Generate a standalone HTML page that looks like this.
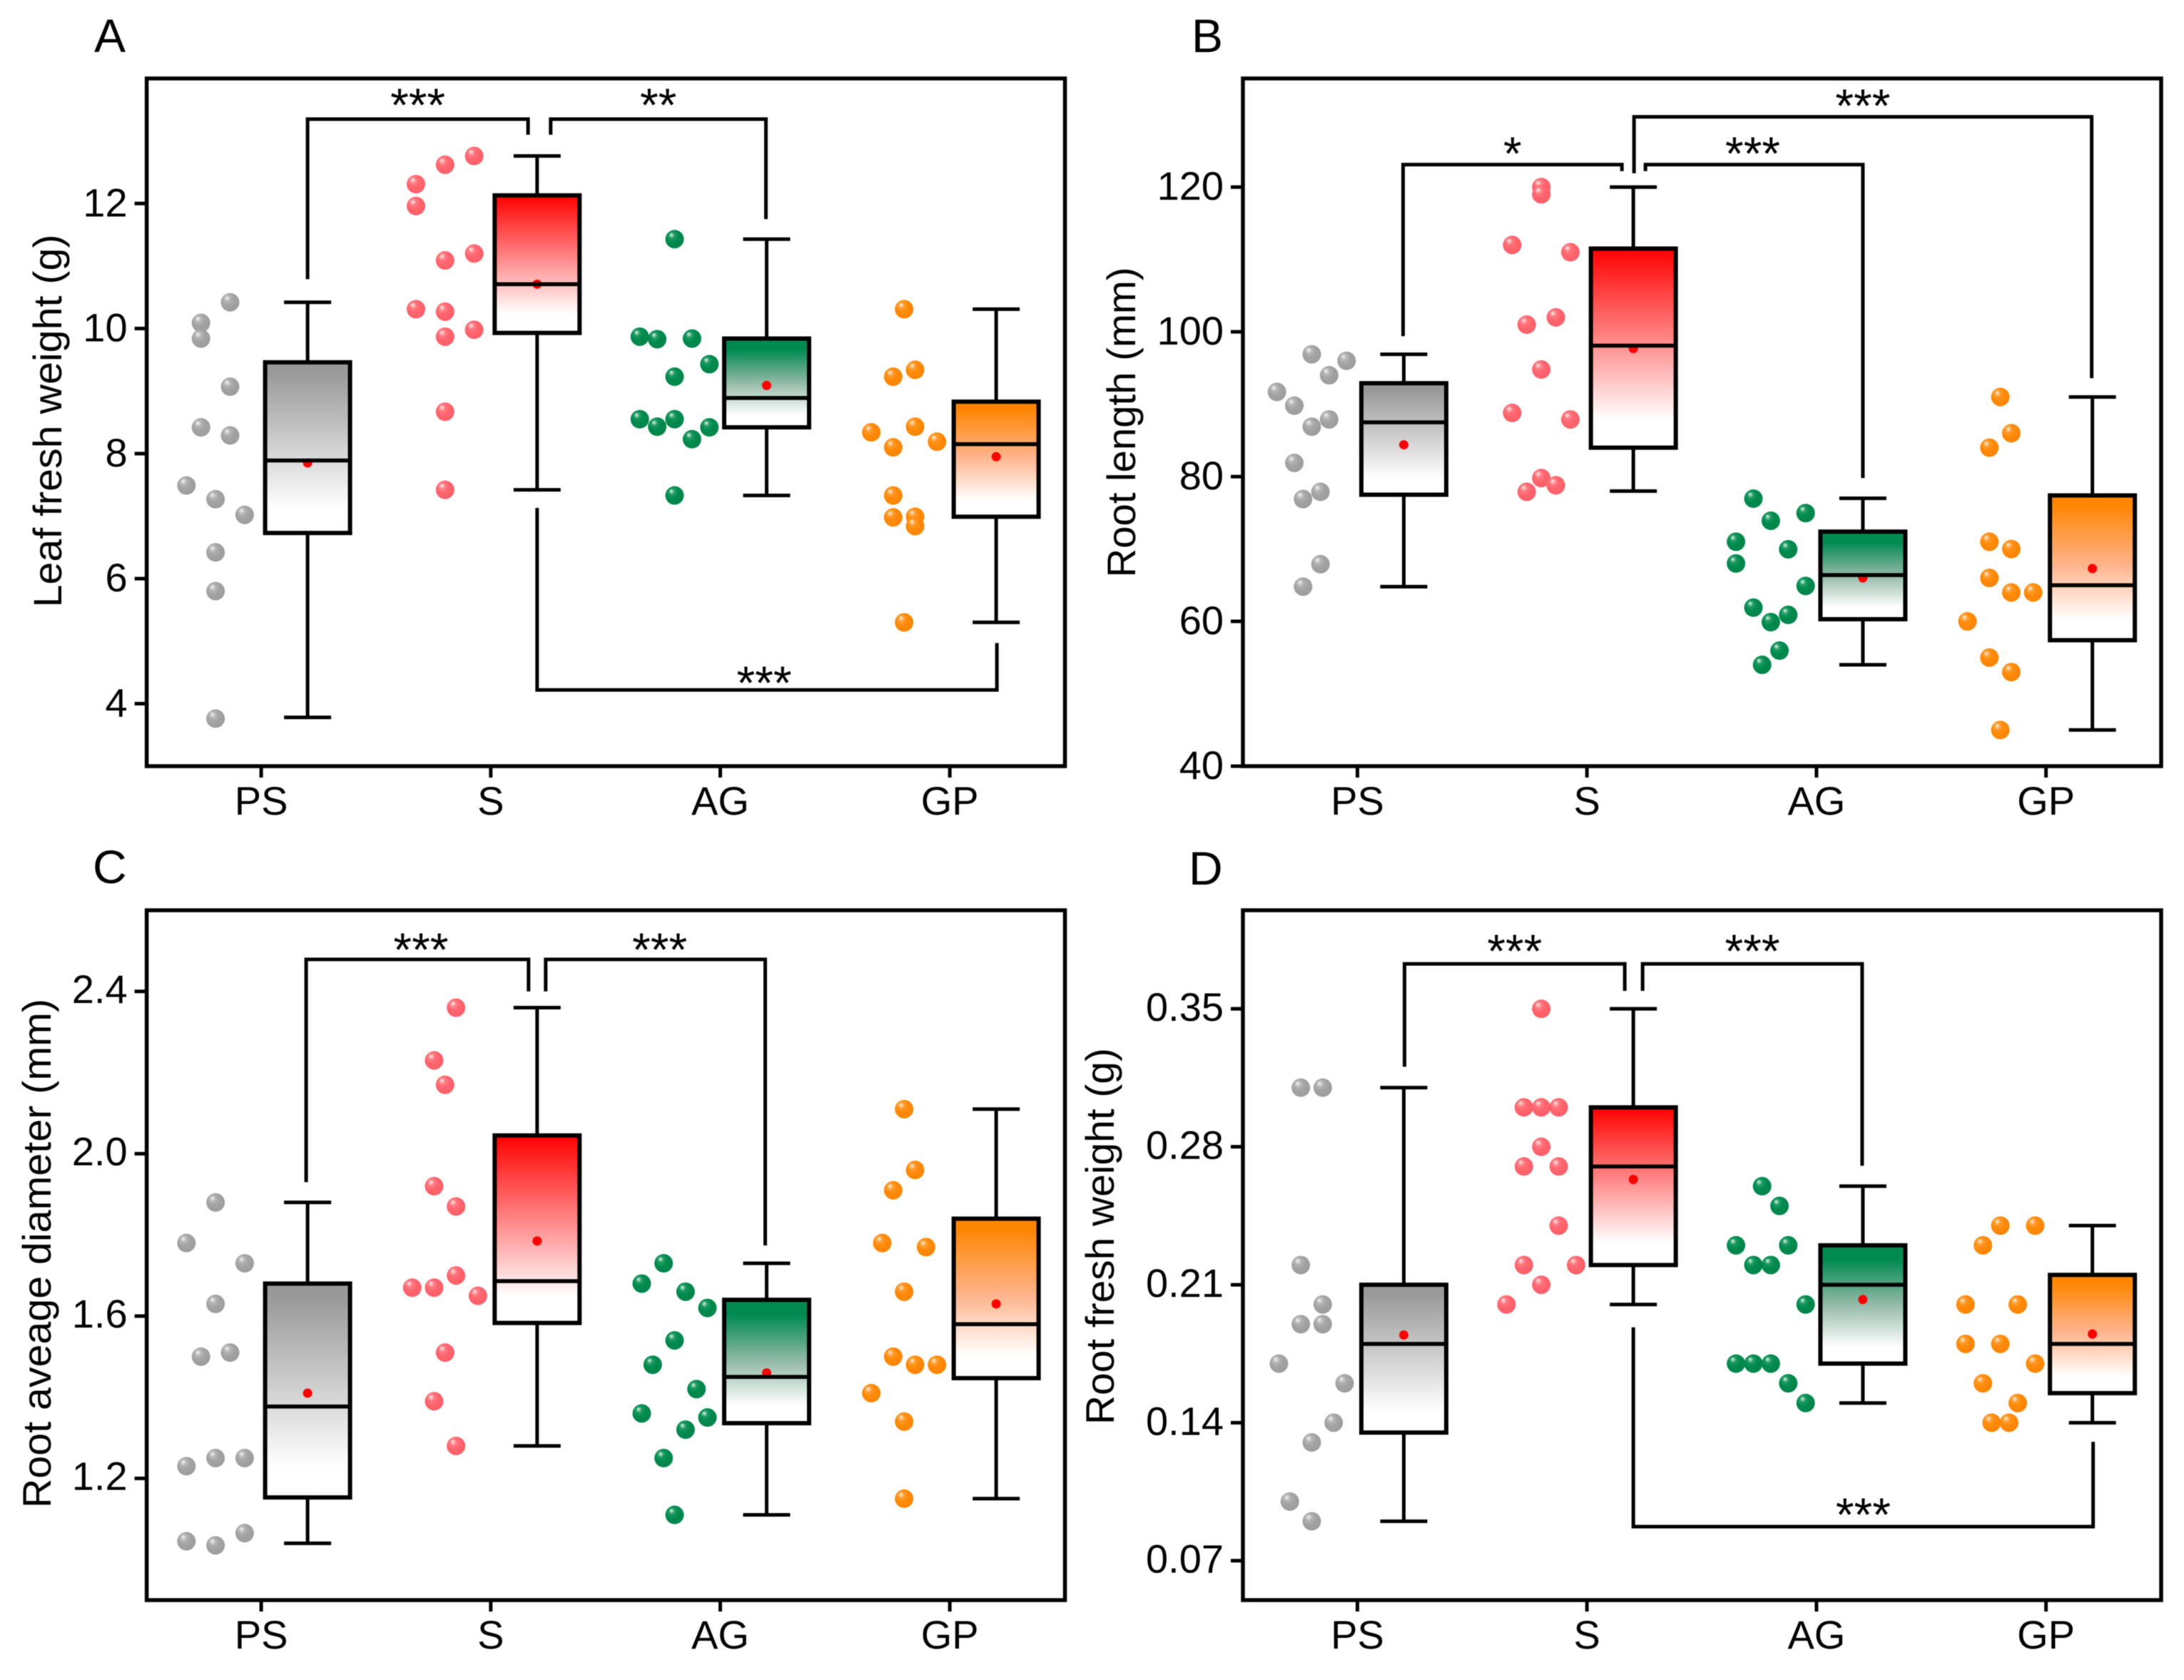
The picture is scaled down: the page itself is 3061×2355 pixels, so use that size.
<!DOCTYPE html>
<html lang="en">
<head>
<meta charset="utf-8">
<title>Four-panel box and swarm plots</title>
<style>
html,body{margin:0;padding:0;background:#fff}
svg{display:block;filter:blur(0.6px)}
text{font-family:"Liberation Sans",Arial,sans-serif;fill:#000}
</style>
</head>
<body>
<svg id="chart" xmlns="http://www.w3.org/2000/svg" width="3061" height="2355" viewBox="0 0 3061 2355">
<defs>
<linearGradient id="box-gray" x1="0" y1="0" x2="0" y2="1"><stop offset="0" stop-color="#999"/><stop offset=".06" stop-color="#999"/><stop offset=".86" stop-color="#fff"/></linearGradient>
<linearGradient id="box-red" x1="0" y1="0" x2="0" y2="1"><stop offset="0" stop-color="#ff0000"/><stop offset=".04" stop-color="#ff0c0c"/><stop offset=".86" stop-color="#fff"/></linearGradient>
<linearGradient id="box-green" x1="0" y1="0" x2="0" y2="1"><stop offset="0" stop-color="#008a50"/><stop offset=".12" stop-color="#008a50"/><stop offset=".5" stop-color="#94baa8"/><stop offset=".86" stop-color="#fff"/></linearGradient>
<linearGradient id="box-orange" x1="0" y1="0" x2="0" y2="1"><stop offset="0" stop-color="#ff8500"/><stop offset=".06" stop-color="#ff8500"/><stop offset=".48" stop-color="#ffb48c"/><stop offset=".86" stop-color="#fff"/></linearGradient>
<radialGradient id="dot-gray" cx=".42" cy=".4" r=".62" fx=".32" fy=".26"><stop offset="0" stop-color="#f2f2f2"/><stop offset=".28" stop-color="#b4b4b4"/><stop offset=".55" stop-color="#a3a3a3"/><stop offset="1" stop-color="#9c9c9c"/></radialGradient>
<radialGradient id="dot-red" cx=".42" cy=".4" r=".62" fx=".32" fy=".26"><stop offset="0" stop-color="#ffecec"/><stop offset=".28" stop-color="#ff7a82"/><stop offset=".55" stop-color="#ff656e"/><stop offset="1" stop-color="#fb5f68"/></radialGradient>
<radialGradient id="dot-green" cx=".42" cy=".4" r=".62" fx=".32" fy=".26"><stop offset="0" stop-color="#e2f5ea"/><stop offset=".26" stop-color="#1d9a62"/><stop offset=".55" stop-color="#008a4e"/><stop offset="1" stop-color="#008449"/></radialGradient>
<radialGradient id="dot-orange" cx=".42" cy=".4" r=".62" fx=".32" fy=".26"><stop offset="0" stop-color="#fff0dc"/><stop offset=".28" stop-color="#ff9a2a"/><stop offset=".55" stop-color="#ff8a0a"/><stop offset="1" stop-color="#fb8400"/></radialGradient>
</defs>
</svg>
<script>
const categories = ['PS', 'S', 'AG', 'GP'];

/* Panel A: leaf fresh weight */
const aTicks = [4, 6, 8, 10, 12];
const aTickLabels = ['4', '6', '8', '10', '12'];
const aPointsPS = [10.42, 10.09, 9.84, 9.07, 8.42, 8.29, 7.49, 7.27, 7.02, 6.42, 5.8, 3.76];
const aPointsS = [12.76, 12.62, 12.31, 11.96, 11.2, 11.09, 10.31, 10.27, 9.98, 9.87, 8.67, 7.42];
const aPointsAG = [11.43, 9.87, 9.83, 9.84, 9.43, 9.23, 8.55, 8.43, 8.55, 8.23, 8.42, 7.33];
const aPointsGP = [10.31, 9.23, 9.34, 8.34, 8.43, 8.1, 8.19, 7.33, 6.98, 6.99, 6.84, 5.3];
const aSlotsPS = [1, -1, -1, 1, -1, 1, -2, 0, 2, 0, 0, 0];
const aSlotsS = [2, 0, -2, -2, 2, 0, -2, 0, 2, 0, 0, 0];
const aSlotsAG = [0, -2, -1, 1, 2, 0, -2, -1, 0, 1, 2, 0];
const aSlotsGP = [0, -.5, .5, -1.5, .5, -.5, 1.5, -.5, -.5, .5, .5, 0];
const aWhiskerHigh = [10.42, 12.76, 11.43, 10.31];
const aQ3 = [9.46, 12.13, 9.84, 8.83];
const aMedian = [7.89, 10.71, 8.89, 8.15];
const aMean = [7.85, 10.71, 9.09, 7.95];
const aQ1 = [6.73, 9.93, 8.42, 6.99];
const aWhiskerLow = [3.78, 7.42, 7.33, 5.3];

/* Panel B: root length */
const bTicks = [40, 60, 80, 100, 120];
const bTickLabels = ['40', '60', '80', '100', '120'];
const bPointsPS = [96.9, 96, 94, 91.7, 89.8, 87.9, 86.9, 81.9, 77.9, 76.9, 67.9, 64.8];
const bPointsS = [120, 119, 112, 111, 101, 102, 94.8, 88.8, 87.9, 79.8, 78.8, 77.9];
const bPointsAG = [76.96, 73.9, 74.96, 71, 69.96, 68, 64.9, 61.9, 60.9, 59.9, 55.96, 54];
const bPointsGP = [91, 86, 84, 71, 70, 66, 64, 64, 60, 55, 53, 45];
const bSlotsPS = [0, 2, 1, -2, -1, 1, 0, -1, .5, -.5, .5, -.5];
const bSlotsS = [0, 0, -2, 2, -1, 1, 0, -2, 2, 0, 1, -1];
const bSlotsAG = [-1, 0, 2, -2, 1, -2, 2, -1, 1, 0, .5, -.5];
const bSlotsGP = [0, .5, -.5, -.5, .5, -.5, .5, 1.5, -1.5, -.5, .5, 0];
const bWhiskerHigh = [96.9, 120, 77, 91];
const bQ3 = [92.9, 111.5, 72.4, 77.4];
const bMedian = [87.5, 98.1, 66.4, 65];
const bMean = [84.4, 97.7, 66, 67.3];
const bQ1 = [77.5, 84, 60.3, 57.4];
const bWhiskerLow = [64.8, 78, 54, 45];

/* Panel C: root average diameter */
const cTicks = [1.2, 1.6, 2.0, 2.4];
const cTickLabels = ['1.2', '1.6', '2.0', '2.4'];
const cPointsPS = [1.88, 1.78, 1.73, 1.63, 1.5, 1.51, 1.23, 1.25, 1.25, 1.045, 1.035, 1.065];
const cPointsS = [2.36, 2.23, 2.17, 1.92, 1.87, 1.70, 1.67, 1.67, 1.65, 1.51, 1.39, 1.28];
const cPointsAG = [1.73, 1.68, 1.66, 1.62, 1.54, 1.48, 1.42, 1.36, 1.35, 1.32, 1.25, 1.11];
const cPointsGP = [2.11, 1.96, 1.91, 1.78, 1.77, 1.66, 1.5, 1.48, 1.48, 1.41, 1.34, 1.15];
const cSlotsPS = [0, -2, 2, 0, -1, 1, -2, 0, 2, -2, 0, 2];
const cSlotsS = [.5, -.5, 0, -.5, .5, .5, -.5, -1.5, 1.5, 0, -.5, .5];
const cSlotsAG = [-.5, -1.5, .5, 1.5, 0, -1, 1, -1.5, 1.5, .5, -.5, 0];
const cSlotsGP = [0, .5, -.5, -1, 1, 0, -.5, .5, 1.5, -1.5, 0, 0];
const cWhiskerHigh = [1.88, 2.36, 1.73, 2.11];
const cQ3 = [1.68, 2.045, 1.64, 1.84];
const cMedian = [1.377, 1.686, 1.45, 1.58];
const cMean = [1.41, 1.785, 1.46, 1.63];
const cQ1 = [1.153, 1.583, 1.336, 1.447];
const cWhiskerLow = [1.04, 1.28, 1.11, 1.15];

/* Panel D: root fresh weight */
const dTicks = [0.07, 0.14, 0.21, 0.28, 0.35];
const dTickLabels = ['0.07', '0.14', '0.21', '0.28', '0.35'];
const dPointsPS = [.31, .31, .22, .20, .19, .19, .17, .16, .14, .13, .10, .09];
const dPointsS = [.35, .30, .30, .30, .28, .27, .27, .24, .22, .22, .21, .20];
const dPointsAG = [.26, .25, .23, .23, .22, .22, .20, .17, .17, .17, .16, .15];
const dPointsGP = [.24, .24, .23, .20, .20, .18, .18, .17, .16, .15, .14, .14];
const dSlotsPS = [-.5, .5, -.5, .5, -.5, .5, -1.5, 1.5, 1, 0, -1, 0];
const dSlotsS = [0, -1, 0, 1, 0, -1, 1, 1, -1, 2, 0, -2];
const dSlotsAG = [-.5, .5, -2, 1, -1, 0, 2, -2, -1, 0, 1, 2];
const dSlotsGP = [0, 2, -1, -2, 1, -2, 0, 2, -1, 1, -.5, .5];
const dWhiskerHigh = [.31, .35, .26, .24];
const dQ3 = [.21, .30, .23, .215];
const dMedian = [.18, .27, .21, .18];
const dMean = [.1845, .2634, .2025, .185];
const dQ1 = [.135, .22, .17, .155];
const dWhiskerLow = [.09, .20, .15, .14];

const groupKeys = ['gray', 'red', 'green', 'orange'];

const panels = [
  { id: 'a', letter: 'A', left: 205.6, top: 110, bottom: 1074, yMin: 3, yMax: 14,
    letterX: 132, letterY: 73, title: 'Leaf fresh weight (g)', titleX: 86, titleY: 590, titleLen: 523, labelDy: 18,
    ticks: aTicks, tickLabels: aTickLabels,
    points: [aPointsPS, aPointsS, aPointsAG, aPointsGP], slots: [aSlotsPS, aSlotsS, aSlotsAG, aSlotsGP],
    step: [20.4, 20.4, 24.4, 30.7],
    hi: aWhiskerHigh, q3: aQ3, med: aMedian, mean: aMean, q1: aQ1, lo: aWhiskerLow,
    brackets: [
      { a: 0, adx: 0, ya: 10.79, b: 1, bdx: -12.7, yb: 13.10, bar: 13.35, text: '***', ldx: 0, up: 29 },
      { a: 1, adx: 19, ya: 13.10, b: 2, bdx: -1, yb: 11.75, bar: 13.35, text: '**', ldx: 0, up: 29 },
      { a: 1, adx: 0, ya: 7.13, b: 3, bdx: 1, yb: 4.97, bar: 4.22, text: '***', ldx: -4, up: 19 }
    ] },
  { id: 'b', letter: 'B', left: 1742, top: 110, bottom: 1074, yMin: 40, yMax: 135,
    letterX: 1670, letterY: 73, title: 'Root length (mm)', titleX: 1591, titleY: 592, titleLen: 435, labelDy: 18,
    ticks: bTicks, tickLabels: bTickLabels,
    points: [bPointsPS, bPointsS, bPointsAG, bPointsGP], slots: [bSlotsPS, bSlotsS, bSlotsAG, bSlotsGP],
    step: [24.4, 20.4, 24.4, 30.7],
    hi: bWhiskerHigh, q3: bQ3, med: bMedian, mean: bMean, q1: bQ1, lo: bWhiskerLow,
    brackets: [
      { a: 0, adx: -1, ya: 99.4, b: 1, bdx: -16, yb: 122.2, bar: 123.1, text: '*', ldx: 0, up: 25 },
      { a: 1, adx: 17, ya: 122.2, b: 2, bdx: 0, yb: 79.8, bar: 123.1, text: '***', ldx: -2, up: 25 },
      { a: 1, adx: 1, ya: 121.9, b: 3, bdx: -1, yb: 93.6, bar: 129.7, text: '***', ldx: 0, up: 25 }
    ] },
  { id: 'c', letter: 'C', left: 205.6, top: 1276, bottom: 2243, yMin: 0.9, yMax: 2.6,
    letterX: 130, letterY: 1238, title: 'Root aveage diameter (mm)', titleX: 71, titleY: 1757, titleLen: 714, labelDy: 16,
    ticks: cTicks, tickLabels: cTickLabels,
    points: [cPointsPS, cPointsS, cPointsAG, cPointsGP], slots: [cSlotsPS, cSlotsS, cSlotsAG, cSlotsGP],
    step: [20.4, 30.7, 30.7, 30.7],
    hi: cWhiskerHigh, q3: cQ3, med: cMedian, mean: cMean, q1: cQ1, lo: cWhiskerLow,
    brackets: [
      { a: 0, adx: -2, ya: 1.93, b: 1, bdx: -12, yb: 2.40, bar: 2.479, text: '***', ldx: 5, up: 23 },
      { a: 1, adx: 12, ya: 2.40, b: 2, bdx: -2, yb: 1.774, bar: 2.479, text: '***', ldx: 6, up: 23 }
    ] },
  { id: 'd', letter: 'D', left: 1742, top: 1276, bottom: 2243, yMin: 0.05, yMax: 0.40,
    letterX: 1666, letterY: 1240, title: 'Root fresh weight (g)', titleX: 1561, titleY: 1733, titleLen: 528, labelDy: 17,
    ticks: dTicks, tickLabels: dTickLabels,
    points: [dPointsPS, dPointsS, dPointsAG, dPointsGP], slots: [dSlotsPS, dSlotsS, dSlotsAG, dSlotsGP],
    step: [30.7, 24.4, 24.4, 24.4],
    hi: dWhiskerHigh, q3: dQ3, med: dMedian, mean: dMean, q1: dQ1, lo: dWhiskerLow,
    brackets: [
      { a: 0, adx: 1, ya: .3206, b: 1, bdx: -12, yb: .3591, bar: .3728, text: '***', ldx: 0, up: 27 },
      { a: 1, adx: 13, ya: .3591, b: 2, bdx: -1, yb: .2704, bar: .3728, text: '***', ldx: 0, up: 27 },
      { a: 1, adx: 0, ya: .1884, b: 3, bdx: 1, yb: .1303, bar: .0873, text: '***', ldx: 0, up: 26 }
    ] }
];

const SVG_NS = 'http://www.w3.org/2000/svg';
const root = document.getElementById('chart');

function make(tag, parent, attrs, name) {
  const el = document.createElementNS(SVG_NS, tag);
  for (const k in attrs) el.setAttribute(k, attrs[k]);
  
  
  parent.appendChild(el);
  return el;
}

function line(parent, x1, y1, x2, y2, w, name) {
  return make('line', parent, { x1: x1, y1: y1, x2: x2, y2: y2, stroke: '#000', 'stroke-width': w }, name);
}

function label(parent, x, y, str, size, anchor, name) {
  const t = make('text', parent, { x: x, y: y, 'font-size': size, 'text-anchor': anchor }, name);
  t.textContent = str;
  return t;
}

panels.forEach(function (p) {
  const width = 1287;
  const yScale = function (v) { return p.bottom - (v - p.yMin) * (p.bottom - p.top) / (p.yMax - p.yMin); };
  const tickX = function (i) { return p.left + 160.5 + i * 321.7; };
  const boxX = function (i) { return p.left + 225.5 + i * 321.7; };
  const swarmX = function (i) { return boxX(i) - 129; };

  const g = make('g', root, {}, 'panel-' + p.id);

  label(g, p.letterX, p.letterY, p.letter, 66, 'start', 'panel-letter-' + p.id);

  const title = make('text', g, {
    x: 0, y: 0, 'font-size': 56, 'text-anchor': 'middle',
    transform: 'translate(' + p.titleX + ',' + p.titleY + ') rotate(-90)',
    textLength: p.titleLen, lengthAdjust: 'spacingAndGlyphs'
  }, 'y-axis-title-' + p.id);
  title.textContent = p.title;

  /* y axis */
  p.ticks.forEach(function (v, i) {
    const y = yScale(v);
    line(g, p.left - 17, y, p.left, y, 5, 'y-tick-' + p.id + '-' + i);
    label(g, p.left - 27, y + p.labelDy, p.tickLabels[i], 56, 'end', 'y-tick-label-' + p.id + '-' + i);
  });

  /* x axis */
  categories.forEach(function (c, i) {
    line(g, tickX(i), p.bottom, tickX(i), p.bottom + 16, 5, 'x-tick-' + p.id + '-' + c);
    label(g, tickX(i), p.bottom + 68, c, 56, 'middle', 'x-tick-label-' + p.id + '-' + c);
  });

  /* series */
  categories.forEach(function (c, i) {
    const key = groupKeys[i];
    const series = make('g', g, {}, 'series-' + p.id + '-' + c);

    p.points[i].forEach(function (v, j) {
      make('circle', series, {
        cx: swarmX(i) + p.slots[i][j] * p.step[i], cy: yScale(v), r: 13, fill: 'url(#dot-' + key + ')'
      }, 'point-' + p.id + '-' + c + '-' + j);
    });

    const x = boxX(i);
    const whisk = 5, capHalf = 33, halfW = 59.5;
    line(series, x, yScale(p.hi[i]), x, yScale(p.q3[i]), whisk, 'whisker-high-' + p.id + '-' + c);
    line(series, x, yScale(p.q1[i]), x, yScale(p.lo[i]), whisk, 'whisker-low-' + p.id + '-' + c);
    line(series, x - capHalf, yScale(p.hi[i]), x + capHalf, yScale(p.hi[i]), whisk, 'whisker-cap-high-' + p.id + '-' + c);
    line(series, x - capHalf, yScale(p.lo[i]), x + capHalf, yScale(p.lo[i]), whisk, 'whisker-cap-low-' + p.id + '-' + c);
    make('rect', series, {
      x: x - halfW, y: yScale(p.q3[i]), width: halfW * 2, height: yScale(p.q1[i]) - yScale(p.q3[i]),
      fill: 'url(#box-' + key + ')', stroke: '#000', 'stroke-width': 6
    }, 'box-' + p.id + '-' + c);
    make('circle', series, { cx: x, cy: yScale(p.mean[i]), r: 6.5, fill: '#ff0000' }, 'mean-' + p.id + '-' + c);
    line(series, x - halfW, yScale(p.med[i]), x + halfW, yScale(p.med[i]), 5.5, 'median-' + p.id + '-' + c);
  });

  /* significance brackets */
  p.brackets.forEach(function (b, n) {
    const xa = boxX(b.a) + b.adx, xb = boxX(b.b) + b.bdx;
    const bar = yScale(b.bar);
    make('path', g, {
      d: 'M' + xa + ' ' + yScale(b.ya) + 'L' + xa + ' ' + bar + 'L' + xb + ' ' + bar + 'L' + xb + ' ' + yScale(b.yb),
      fill: 'none', stroke: '#000', 'stroke-width': 5, 'stroke-linejoin': 'miter'
    }, 'significance-bracket-' + p.id + '-' + n);
    label(g, (xa + xb) / 2 + b.ldx, bar - b.up + 32, b.text, 66, 'middle', 'significance-label-' + p.id + '-' + n);
  });

  /* frame */
  make('rect', g, {
    x: p.left, y: p.top, width: width, height: p.bottom - p.top, fill: 'none', stroke: '#000', 'stroke-width': 5.5
  }, 'plot-frame-' + p.id);
});
</script>
</body>
</html>
